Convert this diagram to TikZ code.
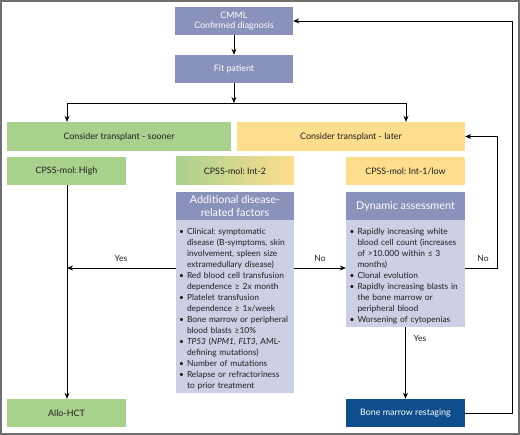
\documentclass[tikz,border=0pt]{standalone}
\usepackage{fontspec}
\setmainfont{Lato}
\usepackage{enumitem}
\usetikzlibrary{positioning,calc,arrows.meta}
\definecolor{CmmlBlue}{RGB}{137,146,186}
\definecolor{BodyLilac}{RGB}{205,208,228}
\definecolor{SoonGreen}{RGB}{169,209,142}
\definecolor{LateYellow}{RGB}{253,222,142}
\definecolor{RestageBlue}{RGB}{14,78,140}
\definecolor{FrameGray}{RGB}{110,110,110}
\definecolor{TextDark}{RGB}{30,30,30}
\frenchspacing
\newcommand{\bulletlist}[1]{\begin{itemize}[leftmargin=8pt,labelsep=3pt,nosep,label=\textbullet]\raggedright#1\end{itemize}}

\begin{document}
\begin{tikzpicture}[x=1pt,y=-1pt,
        % Style cho các hộp
        box/.style={
            minimum width=118pt,
            minimum height=28pt,
            inner sep=1pt,
            align=center,
            font=\fontsize{8.9}{10.5}\selectfont,
            text=TextDark
        },
        bluebox/.style={box, fill=CmmlBlue, text=white},
        greenbox/.style={box, fill=SoonGreen},
        yellowbox/.style={box, fill=LateYellow},
        headbox/.style={box, fill=CmmlBlue, text=white, font=\fontsize{10.8}{12.5}\selectfont},
        bodybox/.style={
            fill=BodyLilac,
            minimum width=118pt,
            text width=112pt,
            inner xsep=3pt,
            inner ysep=3pt,
            anchor=north,
            text=TextDark,
            font=\fontsize{8.4}{11}\selectfont
        },
        % Style cho mũi tên
        arr/.style={-{Stealth[length=6pt,width=5pt]}, line width=0.9pt, black},
        line/.style={line width=0.9pt, black},
        % Style cho nhãn Yes/No
        tag/.style={font=\fontsize{8.5}{10}\selectfont, text=TextDark}
    ]

        % --- 0. KHUNG ---
        \useasboundingbox (0,0) rectangle (520,435);
        \draw[FrameGray, line width=1.2pt] (1,1) rectangle (519,434);

        % --- 1. PHẦN TRÊN ---
        \node[bluebox] (cmml) at (234,21) {CMML\\Confirmed diagnosis};
        \node[bluebox] (fit) at (234,69) {Fit patient};
        \node[greenbox, minimum width=224pt, minimum height=29pt] (sooner) at (119,136.5) {Consider transplant - sooner};
        \node[yellowbox, minimum width=228pt, minimum height=29pt] (later) at (351,136.5) {Consider transplant - later};

        % --- 2. CPSS-MOL ---
        \node[greenbox, minimum width=119pt] (high) at (66.5,171) {CPSS-mol: High};
        \node[box, left color=SoonGreen, right color=LateYellow] (int2) at (235,171) {CPSS-mol: Int-2};
        \node[yellowbox, minimum width=119pt] (int1) at (405.5,171) {CPSS-mol: Int-1/low};

        % --- 3. CÁC YẾU TỐ ---
        \node[headbox] (addhead) at (235,206) {Additional disease-\\related factors};
        \node[bodybox, minimum height=173pt] (addbody) at (addhead.south) {\bulletlist{
            \item Clinical: symptomatic\\disease (B-symptoms, skin\\involvement, spleen size\\extramedullary disease)
            \item Red blood cell transfusion\\dependence ≥ 2x month
            \item Platelet transfusion\\dependence ≥ 1x/week
            \item Bone marrow or peripheral\\blood blasts ≥10\%
            \item \textit{TP53} (\textit{NPM1}, \textit{FLT3}, AML-\\defining mutations)
            \item Number of mutations
            \item Relapse or refractoriness\\to prior treatment}};

        \node[headbox, minimum width=119pt] (dynhead) at (405.5,206) {Dynamic assessment};
        \node[bodybox, minimum width=119pt, minimum height=103pt] (dynbody) at (dynhead.south) {\bulletlist{
            \item Rapidly increasing white\\blood cell count (increases\\of >10.000 within ≤ 3\\months)
            \item Clonal evolution
            \item Rapidly increasing blasts in\\the bone marrow or\\peripheral blood
            \item Worsening of cytopenias}};

        % --- 4. KẾT QUẢ ---
        \node[greenbox, minimum width=119pt] (allo) at (66.5,413) {Allo-HCT};
        \node[box, fill=RestageBlue, text=white, minimum width=119pt] (restage) at (405.5,413) {Bone marrow restaging};

        % --- 5. VẼ CẠNH ---
        \coordinate (split) at (234,103);
        \coordinate (splitL) at (67,103);
        \coordinate (splitR) at (406,103);
        \coordinate (yesrow) at (67,268);
        \coordinate (norow) at (497,268);
        \coordinate (loop) at (512,413);

        \draw[arr] (cmml) -- (fit);
        \draw[arr] (fit) -- (split);
        \draw[line] (splitL) -- (splitR);
        \draw[arr] (splitL) -- (splitL |- sooner.north);
        \draw[arr] (splitR) -- (splitR |- later.north);

        \draw[arr] (high.south -| yesrow) -- (allo.north -| yesrow);
        \draw[arr] (addbody.west |- yesrow) -- (yesrow);
        \draw[arr] (addbody.east |- yesrow) -- (dynbody.west |- yesrow);
        \draw[arr] (dynbody.south -| restage) -- (restage.north);
        \draw[arr] (dynbody.east |- norow) -- (norow) |- (later.east);
        \draw[arr] (restage.east) -- (loop) |- (cmml.east);

        % --- 6. NHÃN ---
        \node[tag] (yesL) at (121,258) {Yes};
        \node[tag] (noM) at (320,258) {No};
        \node[tag] (noR) at (483,258) {No};
        \node[tag] (yesD) at (420,338) {Yes};

    \end{tikzpicture}
\end{document}
